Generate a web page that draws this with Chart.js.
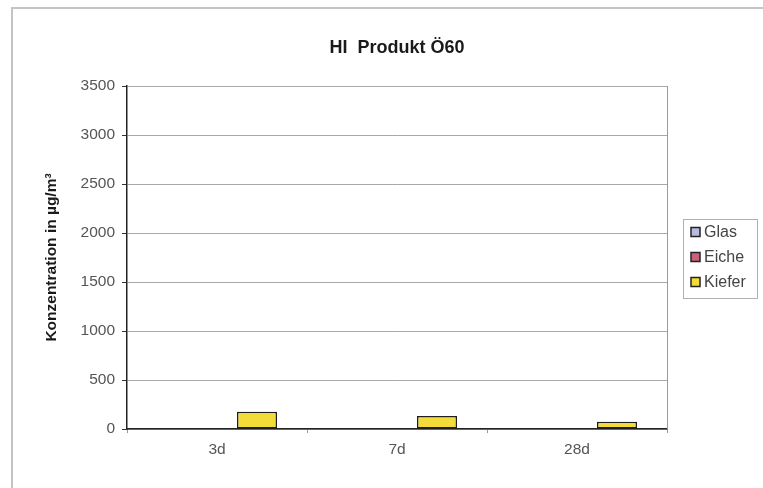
<!DOCTYPE html>
<html>
<head>
<meta charset="utf-8">
<script src="https://cdn.jsdelivr.net/npm/chart.js@4/dist/chart.umd.min.js"></script>
<style>
  html, body { margin: 0; padding: 0; background: #ffffff; }
  #wrap { width: 763px; height: 488px; position: relative; }
</style>
</head>
<body>
<div id="wrap"><canvas id="c" width="763" height="488"></canvas></div>
<script>
// Sampling days and measured concentrations per substrate
const categories = ['3d', '7d', '28d'];
const seriesNames = ['Glas', 'Eiche', 'Kiefer'];
const glasValues = [0, 0, 0];
const eicheValues = [0, 0, 0];
const kieferValues = [176, 133, 74];
const seriesColors = ['#b9b9e2', '#c9607c', '#f3dc3a'];
const yTicks = [0, 500, 1000, 1500, 2000, 2500, 3000, 3500];
const chartTitle = 'HI  Produkt Ö60';
const yAxisTitle = 'Konzentration in µg/m³';

const FONT = '"Liberation Sans", Arial, sans-serif';

// Frame, plot border, title and boxed legend
const decorations = {
  id: 'decorations',
  beforeDraw(chart) {
    const ctx = chart.ctx;
    ctx.save();
    ctx.strokeStyle = '#c4c4c4';
    ctx.lineWidth = 2;
    ctx.beginPath();
    ctx.moveTo(12, 488);
    ctx.lineTo(12, 8);
    ctx.lineTo(763, 8);
    ctx.stroke();
    ctx.restore();
  },
  beforeDatasetsDraw(chart) {
    const { ctx, chartArea: a } = chart;
    ctx.save();
    ctx.strokeStyle = '#9a9a9a';
    ctx.lineWidth = 1;
    ctx.beginPath();
    ctx.moveTo(a.right + 0.5, a.top);
    ctx.lineTo(a.right + 0.5, a.bottom);
    ctx.stroke();
    ctx.restore();
  },
  afterDraw(chart) {
    const { ctx, chartArea: a } = chart;
    ctx.save();
    // title
    ctx.fillStyle = '#1a1a1a';
    ctx.font = 'bold 18px ' + FONT;
    ctx.textAlign = 'center';
    ctx.textBaseline = 'middle';
    ctx.fillText(chartTitle, (a.left + a.right) / 2, 48);

    // legend box
    const bx = 683, by = 219, bw = 74, bh = 79;
    ctx.strokeStyle = '#b0b0b0';
    ctx.lineWidth = 1;
    ctx.strokeRect(bx + 0.5, by + 0.5, bw, bh);
    ctx.font = '16px ' + FONT;
    ctx.textAlign = 'left';
    chart.data.datasets.forEach((ds, i) => {
      const cy = 232 + i * 25;
      ctx.fillStyle = ds.backgroundColor;
      ctx.fillRect(691, cy - 4.5, 9, 9);
      ctx.strokeStyle = '#222';
      ctx.lineWidth = 1.5;
      ctx.strokeRect(691, cy - 4.5, 9, 9);
      ctx.fillStyle = '#444';
      ctx.fillText(ds.label, 704, cy + 1);
    });
    ctx.restore();
  }
};

const datasets = [glasValues, eicheValues, kieferValues].map((vals, i) => ({
  label: seriesNames[i],
  data: vals,
  backgroundColor: seriesColors[i],
  borderColor: '#1e1e1e',
  borderWidth: 1.5,
  borderSkipped: false,
  categoryPercentage: 120 / 180,
  barPercentage: 1.0
}));

new Chart(document.getElementById('c'), {
  type: 'bar',
  data: { labels: categories, datasets },
  options: {
    responsive: false,
    animation: false,
    devicePixelRatio: 1,
    layout: { padding: { left: 12, right: 96, top: 86, bottom: 0 } },
    plugins: {
      legend: { display: false },
      title: { display: false },
      tooltip: { enabled: false }
    },
    scales: {
      x: {
        grid: {
          offset: true,
          drawOnChartArea: false,
          drawTicks: true,
          tickLength: 4,
          tickColor: '#999'
        },
        border: { color: '#222', width: 1.5 },
        ticks: {
          color: '#555',
          font: { family: FONT, size: 15.5 },
          padding: 7
        },
        afterFit(s) { s.height = 59; }
      },
      y: {
        min: 0,
        max: 3500,
        afterBuildTicks(s) { s.ticks = yTicks.map(v => ({ value: v })); },
        grid: {
          color: '#a8a8a8',
          lineWidth: 1,
          drawTicks: true,
          tickLength: 5,
          tickColor: '#333'
        },
        border: { color: '#222', width: 1.5 },
        ticks: {
          color: '#555',
          font: { family: FONT, size: 15.5 },
          padding: 7,
          callback: v => String(v)
        },
        title: {
          display: true,
          text: yAxisTitle,
          color: '#1a1a1a',
          font: { family: FONT, size: 15.5, weight: 'bold' },
          padding: 30
        },
        afterFit(s) { s.width = 115; }
      }
    }
  },
  plugins: [decorations]
});
</script>
</body>
</html>
